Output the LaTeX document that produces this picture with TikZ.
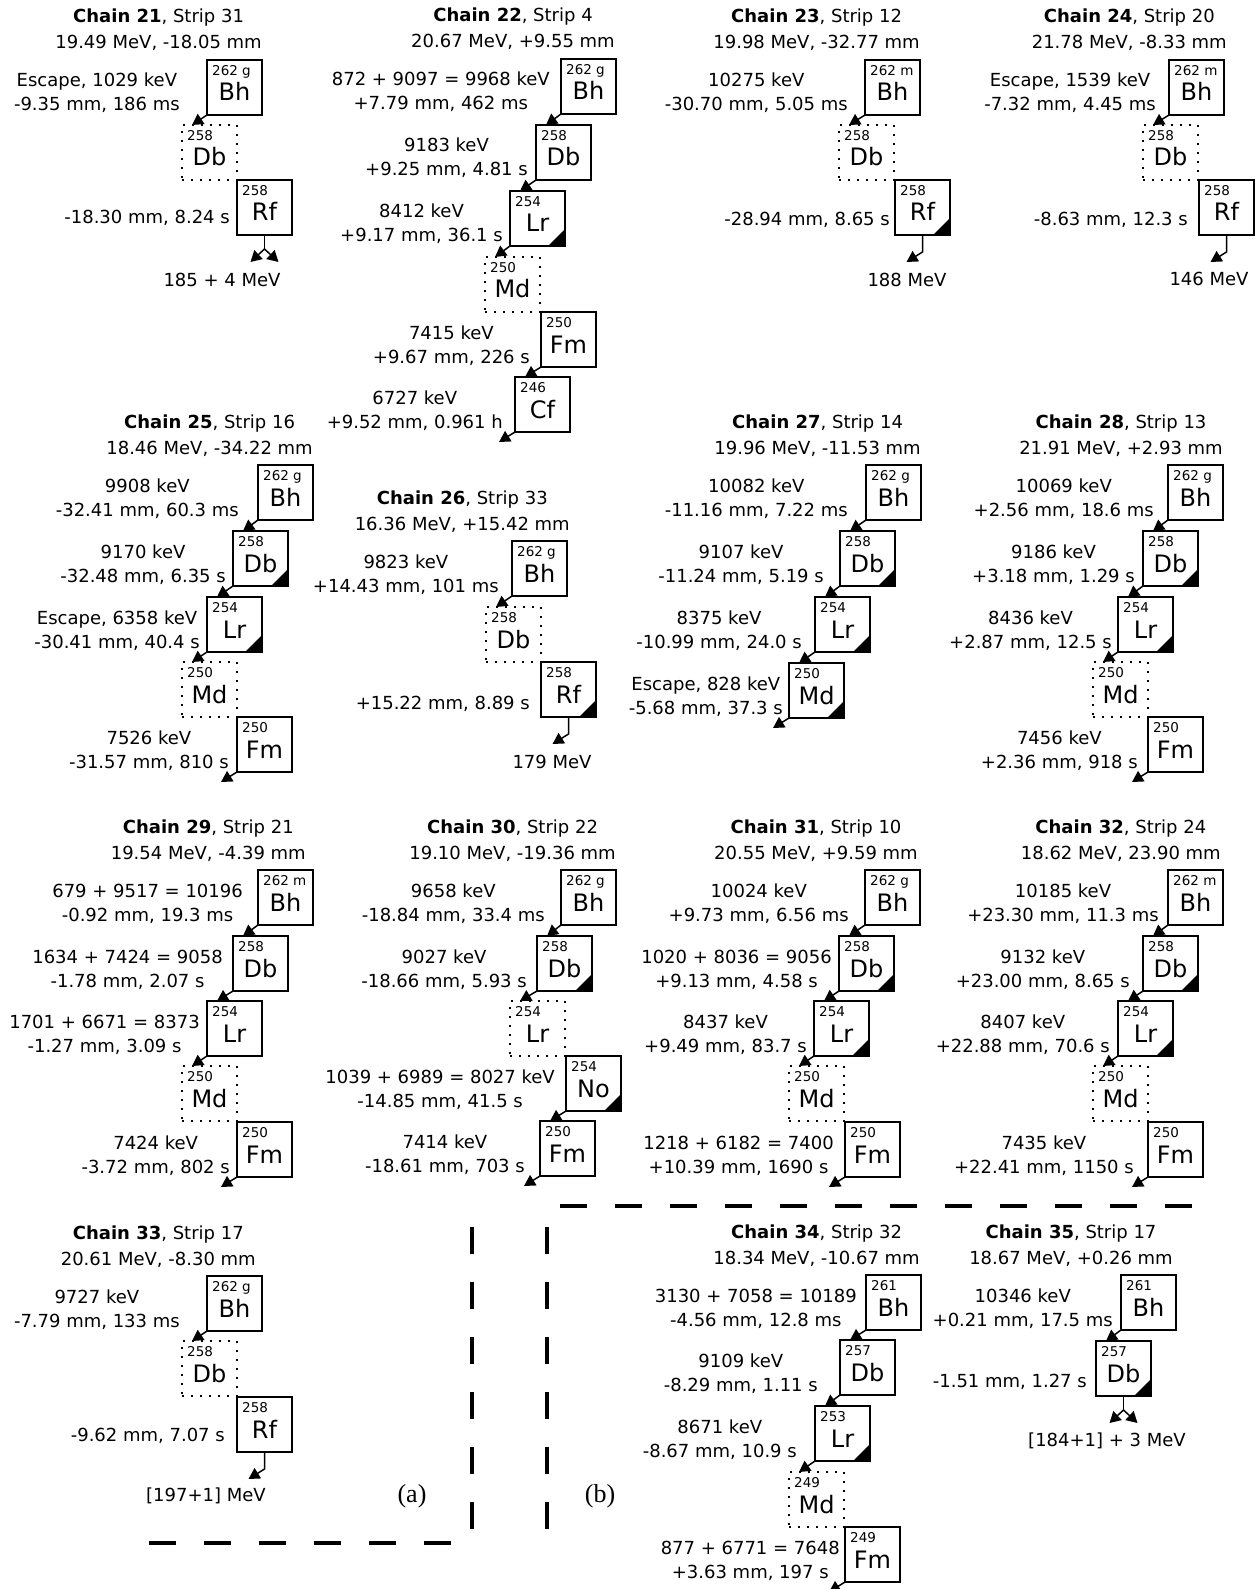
\documentclass[tikz,border=0pt]{standalone}
\usepackage{fontspec}
\setmainfont{DejaVu Sans}
\newfontfamily\serifA{Liberation Serif}
\usetikzlibrary{arrows.meta,calc}
\tikzset{
  nucbox/.style={draw, line width=1.8pt, minimum width=55pt, minimum height=55pt, inner sep=0pt, outer sep=0pt},
  nucdot/.style={nucbox, dash pattern=on 2pt off 7pt},
  elemtxt/.style={font=\fontsize{24}{24}\selectfont, inner sep=0pt},
  masstxt/.style={font=\fontsize{13.5}{13.5}\selectfont, inner sep=0pt},
  lbl/.style={font=\fontsize{18}{24}\selectfont, inner sep=0pt, anchor=base east},
  ttl/.style={font=\fontsize{18}{24}\selectfont, inner sep=0pt},
  txt/.style={font=\fontsize{18}{24}\selectfont, inner sep=0pt},
  decay/.style={line width=1.5pt, -{Triangle[length=11pt,width=12pt]}},
  fisline/.style={line width=1.5pt},
  dashsep/.style={line width=4.5pt, dash pattern=on 27pt off 28pt},
}
\newcommand\Nuc[6]{%
  \node[#6] (#1) at ({#2+27.5},{#3+27.5}) {};
  \node[elemtxt, anchor=base] (#1s) at ($(#1.north)+(0,41)$) {#5};
  \node[masstxt, anchor=north west] (#1m) at ($(#1.north west)+(5,5)$) {#4};
}
\newcommand\Tri[1]{\fill (#1.south east) -- ++(-17,0) -- ++(17,-17) -- cycle;}
\newcommand\Dec[2]{\draw[decay] (#1.south west) -- ($(#2.north west)+(10,0)$);}
\newcommand\DecEnd[1]{\draw[decay] (#1.south west) -- ++(-16,10);}
\newcommand\FisOne[1]{\draw[decay] (#1.south) -- ++(0,17) -- ++(-16,10);}
\newcommand\FisY[1]{\draw[fisline] (#1.south) -- ++(0,14) coordinate (#1y);
  \draw[decay] (#1y) -- ++(-14,13); \draw[decay] (#1y) -- ++(14,13);}
\newcommand\Title[5]{%
  \node[ttl, anchor=base east] (#1b) at (#2,{#3-11}) {#5};
  \node[ttl, anchor=base] (#1a) at ($(#1b.base)+(0,-26)$) {#4};
}
\newcommand\Lab[4]{\node[lbl] (#1) at (#2,#3) {\begin{tabular}[t]{@{}c@{}}#4\end{tabular}};}
\begin{document}
\begin{tikzpicture}[x=1pt,y=-1pt]
\useasboundingbox (0,0) rectangle (1258,1589);
% ---------- Chain 21
\Nuc{a21}{207}{60}{262 g}{Bh}{nucbox}
\Nuc{b21}{182}{125}{258}{Db}{nucdot}
\Nuc{c21}{237}{180}{258}{Rf}{nucbox}
\Dec{a21}{b21}
\FisY{c21}
\node[txt] (f21) at (222,280) {185 + 4 MeV};
\Title{t21}{262}{60}{\textbf{Chain 21}, Strip 31}{19.49 MeV, -18.05 mm}
\Lab{la21}{180}{87}{Escape, 1029 keV\\-9.35 mm, 186 ms}
\Lab{lc21}{230}{224}{-18.30 mm, 8.24 s}
% ---------- Chain 22
\Nuc{a22}{561}{59}{262 g}{Bh}{nucbox}
\Nuc{b22}{536}{125}{258}{Db}{nucbox}
\Nuc{c22}{510}{191}{254}{Lr}{nucbox}\Tri{c22}
\Nuc{d22}{485}{257}{250}{Md}{nucdot}
\Nuc{e22}{541}{312}{250}{Fm}{nucbox}
\Nuc{f22}{515}{377}{246}{Cf}{nucbox}
\Dec{a22}{b22}\Dec{b22}{c22}\Dec{c22}{d22}\Dec{e22}{f22}\DecEnd{f22}
\Title{t22}{615}{59}{\textbf{Chain 22}, Strip 4}{20.67 MeV, +9.55 mm}
\Lab{la22}{550}{86}{872 + 9097 = 9968 keV\\+7.79 mm, 462 ms}
\Lab{lb22}{528}{152}{9183 keV\\+9.25 mm, 4.81 s}
\Lab{lc22}{503}{218}{8412 keV\\+9.17 mm, 36.1 s}
\Lab{le22}{530}{339}{7415 keV\\+9.67 mm, 226 s}
\Lab{lf22}{503}{404}{6727 keV\\+9.52 mm, 0.961 h}
% ---------- Chain 23
\Nuc{a23}{865}{60}{262 m}{Bh}{nucbox}
\Nuc{b23}{839}{125}{258}{Db}{nucdot}
\Nuc{c23}{895}{180}{258}{Rf}{nucbox}\Tri{c23}
\Dec{a23}{b23}
\FisOne{c23}
\node[txt] (f23) at (907,280) {188 MeV};
\Title{t23}{920}{60}{\textbf{Chain 23}, Strip 12}{19.98 MeV, -32.77 mm}
\Lab{la23}{848}{87}{10275 keV\\-30.70 mm, 5.05 ms}
\Lab{lc23}{890}{226}{-28.94 mm, 8.65 s}
% ---------- Chain 24
\Nuc{a24}{1169}{60}{262 m}{Bh}{nucbox}
\Nuc{b24}{1143}{125}{258}{Db}{nucdot}
\Nuc{c24}{1199}{180}{258}{Rf}{nucbox}
\Dec{a24}{b24}
\FisOne{c24}
\node[txt] (f24) at (1209,279) {146 MeV};
\Title{t24}{1227}{60}{\textbf{Chain 24}, Strip 20}{21.78 MeV, -8.33 mm}
\Lab{la24}{1156}{87}{Escape, 1539 keV\\-7.32 mm, 4.45 ms}
\Lab{lc24}{1188}{226}{-8.63 mm, 12.3 s}
% ---------- Chain 25
\Nuc{a25}{258}{465}{262 g}{Bh}{nucbox}
\Nuc{b25}{233}{531}{258}{Db}{nucbox}\Tri{b25}
\Nuc{c25}{207}{597}{254}{Lr}{nucbox}\Tri{c25}
\Nuc{d25}{182}{662}{250}{Md}{nucdot}
\Nuc{e25}{237}{717}{250}{Fm}{nucbox}
\Dec{a25}{b25}\Dec{b25}{c25}\Dec{c25}{d25}\DecEnd{e25}
\Title{t25}{313}{465}{\textbf{Chain 25}, Strip 16}{18.46 MeV, -34.22 mm}
\Lab{la25}{239}{492}{9908 keV\\-32.41 mm, 60.3 ms}
\Lab{lb25}{226}{558}{9170 keV\\-32.48 mm, 6.35 s}
\Lab{lc25}{200}{624}{Escape, 6358 keV\\-30.41 mm, 40.4 s}
\Lab{le25}{229}{744}{7526 keV\\-31.57 mm, 810 s}
% ---------- Chain 26
\Nuc{a26}{512}{541}{262 g}{Bh}{nucbox}
\Nuc{b26}{486}{607}{258}{Db}{nucdot}
\Nuc{c26}{541}{662}{258}{Rf}{nucbox}\Tri{c26}
\Dec{a26}{b26}
\FisOne{c26}
\node[txt] (f26) at (552,762) {179 MeV};
\Title{t26}{570}{541}{\textbf{Chain 26}, Strip 33}{16.36 MeV, +15.42 mm}
\Lab{la26}{499}{568}{9823 keV\\+14.43 mm, 101 ms}
\Lab{lc26}{530}{709}{+15.22 mm, 8.89 s}
% ---------- Chain 27
\Nuc{a27}{866}{465}{262 g}{Bh}{nucbox}
\Nuc{b27}{840}{531}{258}{Db}{nucbox}\Tri{b27}
\Nuc{c27}{815}{597}{254}{Lr}{nucbox}\Tri{c27}
\Nuc{d27}{789}{663}{250}{Md}{nucbox}\Tri{d27}
\Dec{a27}{b27}\Dec{b27}{c27}\Dec{c27}{d27}\DecEnd{d27}
\Title{t27}{921}{465}{\textbf{Chain 27}, Strip 14}{19.96 MeV, -11.53 mm}
\Lab{la27}{848}{492}{10082 keV\\-11.16 mm, 7.22 ms}
\Lab{lb27}{824}{558}{9107 keV\\-11.24 mm, 5.19 s}
\Lab{lc27}{802}{624}{8375 keV\\-10.99 mm, 24.0 s}
\Lab{ld27}{783}{690}{Escape, 828 keV\\-5.68 mm, 37.3 s}
% ---------- Chain 28
\Nuc{a28}{1168}{465}{262 g}{Bh}{nucbox}
\Nuc{b28}{1143}{531}{258}{Db}{nucbox}\Tri{b28}
\Nuc{c28}{1118}{597}{254}{Lr}{nucbox}\Tri{c28}
\Nuc{d28}{1093}{662}{250}{Md}{nucdot}
\Nuc{e28}{1148}{717}{250}{Fm}{nucbox}
\Dec{a28}{b28}\Dec{b28}{c28}\Dec{c28}{d28}\DecEnd{e28}
\Title{t28}{1223}{465}{\textbf{Chain 28}, Strip 13}{21.91 MeV, +2.93 mm}
\Lab{la28}{1154}{492}{10069 keV\\+2.56 mm, 18.6 ms}
\Lab{lb28}{1135}{558}{9186 keV\\+3.18 mm, 1.29 s}
\Lab{lc28}{1112}{624}{8436 keV\\+2.87 mm, 12.5 s}
\Lab{le28}{1138}{744}{7456 keV\\+2.36 mm, 918 s}
% ---------- Chain 29
\Nuc{a29}{258}{870}{262 m}{Bh}{nucbox}
\Nuc{b29}{233}{936}{258}{Db}{nucbox}
\Nuc{c29}{207}{1001}{254}{Lr}{nucbox}
\Nuc{d29}{182}{1066}{250}{Md}{nucdot}
\Nuc{e29}{237}{1122}{250}{Fm}{nucbox}
\Dec{a29}{b29}\Dec{b29}{c29}\Dec{c29}{d29}\DecEnd{e29}
\Title{t29}{306}{870}{\textbf{Chain 29}, Strip 21}{19.54 MeV, -4.39 mm}
\Lab{la29}{243}{897}{679 + 9517 = 10196\\-0.92 mm, 19.3 ms}
\Lab{lb29}{223}{963}{1634 + 7424 = 9058\\-1.78 mm, 2.07 s}
\Lab{lc29}{200}{1028}{1701 + 6671 = 8373\\-1.27 mm, 3.09 s}
\Lab{le29}{230}{1149}{7424 keV\\-3.72 mm, 802 s}
% ---------- Chain 30
\Nuc{a30}{561}{870}{262 g}{Bh}{nucbox}
\Nuc{b30}{537}{936}{258}{Db}{nucbox}\Tri{b30}
\Nuc{c30}{510}{1001}{254}{Lr}{nucdot}
\Nuc{d30}{566}{1056}{254}{No}{nucbox}\Tri{d30}
\Nuc{e30}{540}{1121}{250}{Fm}{nucbox}
\Dec{a30}{b30}\Dec{b30}{c30}\Dec{d30}{e30}\DecEnd{e30}
\Title{t30}{616}{870}{\textbf{Chain 30}, Strip 22}{19.10 MeV, -19.36 mm}
\Lab{la30}{545}{897}{9658 keV\\-18.84 mm, 33.4 ms}
\Lab{lb30}{527}{963}{9027 keV\\-18.66 mm, 5.93 s}
\Lab{ld30}{555}{1083}{1039 + 6989 = 8027 keV\\-14.85 mm, 41.5 s}
\Lab{le30}{525}{1148}{7414 keV\\-18.61 mm, 703 s}
% ---------- Chain 31
\Nuc{a31}{865}{870}{262 g}{Bh}{nucbox}
\Nuc{b31}{839}{936}{258}{Db}{nucbox}\Tri{b31}
\Nuc{c31}{814}{1001}{254}{Lr}{nucbox}\Tri{c31}
\Nuc{d31}{789}{1066}{250}{Md}{nucdot}
\Nuc{e31}{845}{1122}{250}{Fm}{nucbox}
\Dec{a31}{b31}\Dec{b31}{c31}\Dec{c31}{d31}\DecEnd{e31}
\Title{t31}{918}{870}{\textbf{Chain 31}, Strip 10}{20.55 MeV, +9.59 mm}
\Lab{la31}{849}{897}{10024 keV\\+9.73 mm, 6.56 ms}
\Lab{lb31}{832}{963}{1020 + 8036 = 9056\\+9.13 mm, 4.58 s}
\Lab{lc31}{807}{1028}{8437 keV\\+9.49 mm, 83.7 s}
\Lab{le31}{834}{1149}{1218 + 6182 = 7400\\+10.39 mm, 1690 s}
% ---------- Chain 32
\Nuc{a32}{1168}{870}{262 m}{Bh}{nucbox}
\Nuc{b32}{1143}{936}{258}{Db}{nucbox}\Tri{b32}
\Nuc{c32}{1118}{1001}{254}{Lr}{nucbox}\Tri{c32}
\Nuc{d32}{1093}{1066}{250}{Md}{nucdot}
\Nuc{e32}{1148}{1122}{250}{Fm}{nucbox}
\Dec{a32}{b32}\Dec{b32}{c32}\Dec{c32}{d32}\DecEnd{e32}
\Title{t32}{1221}{870}{\textbf{Chain 32}, Strip 24}{18.62 MeV, 23.90 mm}
\Lab{la32}{1159}{897}{10185 keV\\+23.30 mm, 11.3 ms}
\Lab{lb32}{1130}{963}{9132 keV\\+23.00 mm, 8.65 s}
\Lab{lc32}{1110}{1028}{8407 keV\\+22.88 mm, 70.6 s}
\Lab{le32}{1134}{1149}{7435 keV\\+22.41 mm, 1150 s}
% ---------- Chain 33
\Nuc{a33}{207}{1276}{262 g}{Bh}{nucbox}
\Nuc{b33}{182}{1341}{258}{Db}{nucdot}
\Nuc{c33}{237}{1397}{258}{Rf}{nucbox}
\Dec{a33}{b33}
\FisOne{c33}
\node[txt] (f33) at (206,1496) {[197+1] MeV};
\Title{t33}{256}{1276}{\textbf{Chain 33}, Strip 17}{20.61 MeV, -8.30 mm}
\Lab{la33}{180}{1303}{9727 keV\\-7.79 mm, 133 ms}
\Lab{lc33}{225}{1441}{-9.62 mm, 7.07 s}
% ---------- Chain 34
\Nuc{a34}{866}{1275}{261}{Bh}{nucbox}
\Nuc{b34}{840}{1340}{257}{Db}{nucbox}
\Nuc{c34}{815}{1406}{253}{Lr}{nucbox}\Tri{c34}
\Nuc{d34}{789}{1472}{249}{Md}{nucdot}
\Nuc{e34}{845}{1527}{249}{Fm}{nucbox}
\Dec{a34}{b34}\Dec{b34}{c34}\Dec{c34}{d34}\DecEnd{e34}
\Title{t34}{920}{1275}{\textbf{Chain 34}, Strip 32}{18.34 MeV, -10.67 mm}
\Lab{la34}{857}{1302}{3130 + 7058 = 10189\\-4.56 mm, 12.8 ms}
\Lab{lb34}{818}{1367}{9109 keV\\-8.29 mm, 1.11 s}
\Lab{lc34}{797}{1433}{8671 keV\\-8.67 mm, 10.9 s}
\Lab{le34}{840}{1554}{877 + 6771 = 7648\\+3.63 mm, 197 s}
% ---------- Chain 35
\Nuc{a35}{1121}{1275}{261}{Bh}{nucbox}
\Nuc{b35}{1096}{1341}{257}{Db}{nucbox}\Tri{b35}
\Dec{a35}{b35}
\FisY{b35}
\node[txt] (f35) at (1107,1441) {[184+1] + 3 MeV};
\Title{t35}{1173}{1275}{\textbf{Chain 35}, Strip 17}{18.67 MeV, +0.26 mm}
\Lab{la35}{1113}{1302}{10346 keV\\+0.21 mm, 17.5 ms}
\Lab{lb35}{1087}{1387}{-1.51 mm, 1.27 s}
% ---------- separators
\coordinate (h1a) at (560,1206); \coordinate (h1b) at (1206,1206);
\coordinate (v1a) at (472,1227); \coordinate (v1b) at (472,1533);
\coordinate (v2a) at (547,1227); \coordinate (v2b) at (547,1529);
\coordinate (h2a) at (149,1543); \coordinate (h2b) at (454,1543);
\draw[dashsep] (h1a) -- (h1b);
\draw[dashsep] (v1a) -- (v1b);
\draw[dashsep] (v2a) -- (v2b);
\draw[dashsep] (h2a) -- (h2b);
\node[font=\serifA\fontsize{26}{26}\selectfont, inner sep=0pt] (pa) at (412,1496) {(a)};
\node[font=\serifA\fontsize{26}{26}\selectfont, inner sep=0pt] (pb) at (600,1496) {(b)};
\end{tikzpicture}
\end{document}
